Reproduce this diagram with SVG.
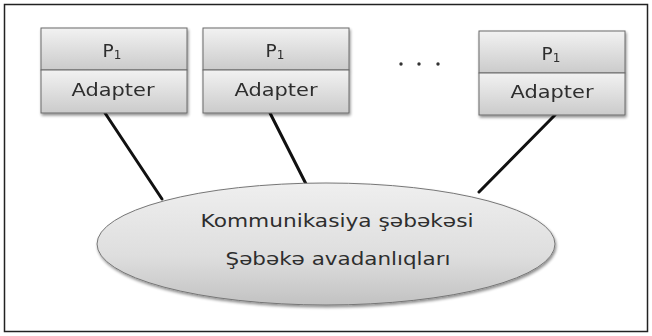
<svg xmlns="http://www.w3.org/2000/svg" width="652" height="336" viewBox="0 0 652 336">
<defs>
<linearGradient id="cell" x1="0" y1="0" x2="0" y2="1">
<stop offset="0" stop-color="#f2f2f2"/>
<stop offset="1" stop-color="#cbcbcb"/>
</linearGradient>
<linearGradient id="ell" x1="0" y1="0" x2="0" y2="1">
<stop offset="0" stop-color="#efefef"/>
<stop offset="0.6" stop-color="#dedede"/>
<stop offset="1" stop-color="#c2c2c2"/>
</linearGradient>
<filter id="sh" x="-10%" y="-10%" width="130%" height="140%">
<feGaussianBlur in="SourceAlpha" stdDeviation="1.5"/>
<feOffset dx="1" dy="2" result="b"/>
<feComponentTransfer><feFuncA type="linear" slope="0.45"/></feComponentTransfer>
<feMerge><feMergeNode/><feMergeNode in="SourceGraphic"/></feMerge>
</filter>
</defs>
<style>
.cell{fill:url(#cell);stroke:#6a6a6a;stroke-width:1}
.t{font-family:"DejaVu Sans",Verdana,sans-serif;fill:#2e2e2e;text-anchor:middle}
.lbl{font-size:18.5px}
.sub{font-size:12px}
.con{stroke:#111;stroke-width:3;stroke-linecap:round}
</style>
<rect x="4.5" y="4.5" width="643" height="327" fill="#fff" stroke="#222" stroke-width="1.5"/>
<g id="connectors">
<line class="con" x1="105" y1="113" x2="162" y2="199"/>
<line class="con" x1="270" y1="113" x2="306" y2="184"/>
<line class="con" x1="555" y1="115" x2="479" y2="192"/>
</g>
<g id="network">
<ellipse cx="326" cy="244" rx="229" ry="61" fill="url(#ell)" stroke="#777" stroke-width="1" filter="url(#sh)"/>
<text class="t" x="337" y="227" font-size="17" textLength="273" lengthAdjust="spacingAndGlyphs">Kommunikasiya şəbəkəsi</text>
<text class="t" x="338" y="265" font-size="17" textLength="225" lengthAdjust="spacingAndGlyphs">Şəbəkə avadanlıqları</text>
</g>
<g id="node1" filter="url(#sh)">
<rect class="cell" x="41" y="28" width="146" height="42"/>
<rect class="cell" x="41" y="70" width="146" height="43"/>
<text class="t lbl" x="112" y="57">P<tspan class="sub" dy="2">1</tspan></text>
<text class="t lbl" x="113" y="96" textLength="83" lengthAdjust="spacingAndGlyphs">Adapter</text>
</g>
<g id="node2" filter="url(#sh)">
<rect class="cell" x="203" y="28" width="146" height="42"/>
<rect class="cell" x="203" y="70" width="146" height="43"/>
<text class="t lbl" x="275" y="57">P<tspan class="sub" dy="2">1</tspan></text>
<text class="t lbl" x="276" y="96" textLength="83" lengthAdjust="spacingAndGlyphs">Adapter</text>
</g>
<g id="dots">
<circle cx="401" cy="64" r="1.7" fill="#333"/>
<circle cx="419" cy="64" r="1.7" fill="#333"/>
<circle cx="438" cy="64" r="1.7" fill="#333"/>
</g>
<g id="node3" filter="url(#sh)">
<rect class="cell" x="479" y="31" width="146" height="42"/>
<rect class="cell" x="479" y="73" width="146" height="42"/>
<text class="t lbl" x="551" y="60">P<tspan class="sub" dy="2">1</tspan></text>
<text class="t lbl" x="552" y="98" textLength="83" lengthAdjust="spacingAndGlyphs">Adapter</text>
</g>
</svg>
